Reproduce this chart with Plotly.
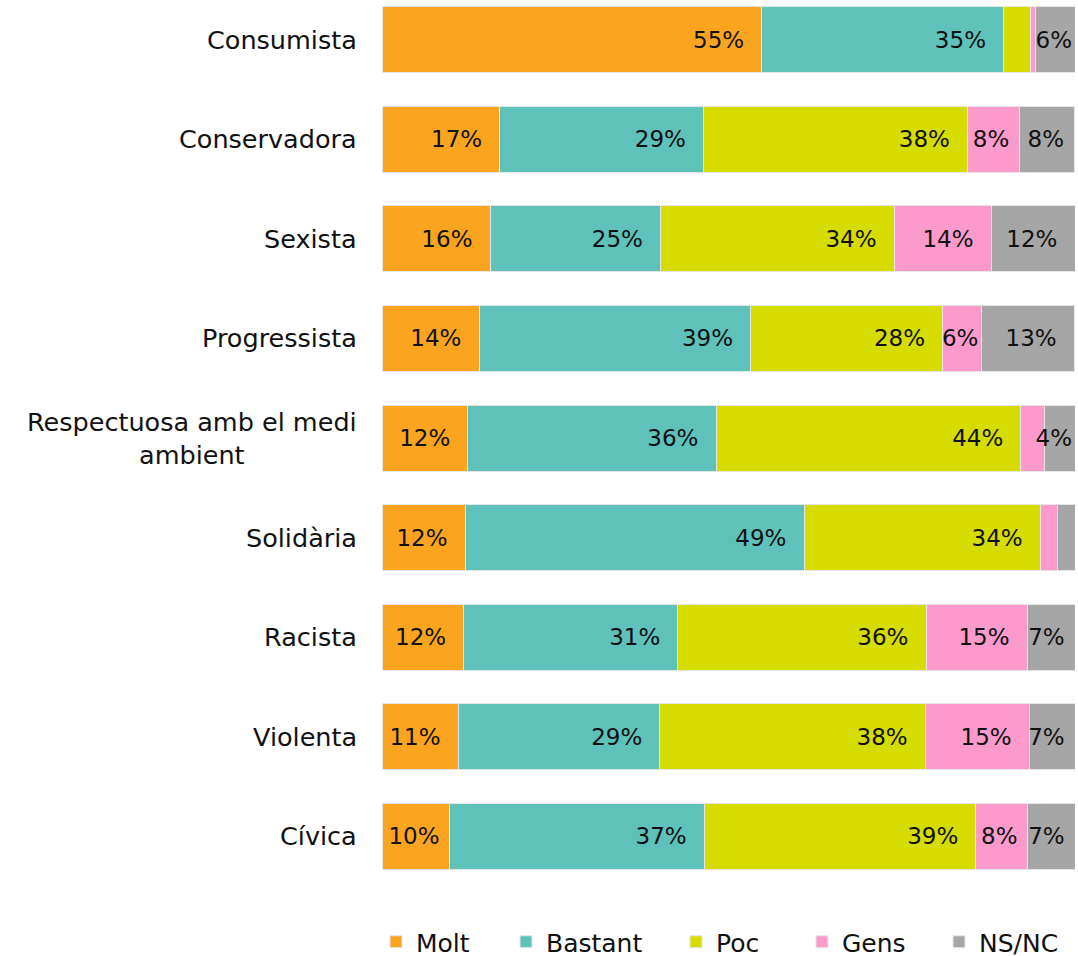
import plotly.graph_objects as go

categories = ["Consumista", "Conservadora", "Sexista", "Progressista",
              "Respectuosa amb el medi<br>ambient", "Solidària", "Racista",
              "Violenta", "Cívica"]
series_names = ["Molt", "Bastant", "Poc", "Gens", "NS/NC"]
molt = [54.8, 17.0, 15.6, 14.0, 12.4, 12.0, 11.8, 11.0, 9.8]
bastant = [34.9, 29.4, 24.6, 39.2, 35.8, 48.9, 30.9, 29.1, 36.7]
poc = [3.9, 38.1, 33.7, 27.7, 44.0, 34.1, 35.8, 38.3, 39.2]
gens = [0.7, 7.5, 14.0, 5.6, 3.4, 2.5, 14.6, 15.0, 7.5]
nsnc = [5.7, 7.9, 12.1, 13.4, 4.4, 2.6, 6.9, 6.6, 6.8]
colors = ["#FBA420", "#5EC1BA", "#D6DC00", "#FC9BCB", "#A6A6A6"]

series_values = [molt, bastant, poc, gens, nsnc]

W, H = 1078, 956
ML, MR, MT, MB = 382, 3, 0, 70
plot_w = W - ML - MR
plot_h = H - MT - MB
FONT = "DejaVu Sans"
NB = "\u00a0"


def label(v):
    if v < 4:
        return ""
    s = f"{round(v)}%"
    if v >= 10:
        return s + NB * 2
    if v >= 6:
        return s + NB
    return s


fig = go.Figure()
legend_px = [376, 506, 676, 802, 939]
for i, (name, vals, col) in enumerate(zip(series_names, series_values, colors)):
    lg = "legend" if i == 0 else f"legend{i + 1}"
    fig.add_trace(go.Bar(
        y=categories, x=vals, name=name, orientation="h",
        marker=dict(color=col, line=dict(color="#E6E6E6", width=1)),
        text=[label(v) for v in vals],
        textposition="inside", insidetextanchor="end", textangle=0,
        constraintext="none",
        textfont=dict(family=FONT, size=23, color="#111111"),
        hoverinfo="skip", legend=lg,
    ))

legend_center_y = 942
layout_legends = {}
for i, px in enumerate(legend_px):
    key = "legend" if i == 0 else f"legend{i + 1}"
    layout_legends[key] = dict(
        x=(px - ML) / plot_w, xanchor="left",
        y=(plot_h - (legend_center_y - MT)) / plot_h, yanchor="middle",
        orientation="h", bgcolor="rgba(0,0,0,0)",
        font=dict(family=FONT, size=25, color="#111111"),
    )

for c in categories:
    fig.add_annotation(
        x=0, xref="paper", y=c, yref="y", xanchor="right", yanchor="middle",
        xshift=-23, text=c, showarrow=False, align="center",
        font=dict(family=FONT, size=25.5, color="#111111"),
    )

fig.update_layout(
    width=W, height=H,
    margin=dict(l=ML, r=MR, t=MT, b=MB, autoexpand=False),
    barmode="stack", bargap=0.337,
    paper_bgcolor="white", plot_bgcolor="white",
    xaxis=dict(range=[0, 100], visible=False, fixedrange=True),
    yaxis=dict(range=[8.5, -0.40], showticklabels=False, showgrid=False,
               zeroline=False, showline=False, ticks="", fixedrange=True),
    showlegend=True,
    **layout_legends,
)

fig.write_html("out.html", config={"displayModeBar": False},
               post_script="document.body.style.margin='0';")
